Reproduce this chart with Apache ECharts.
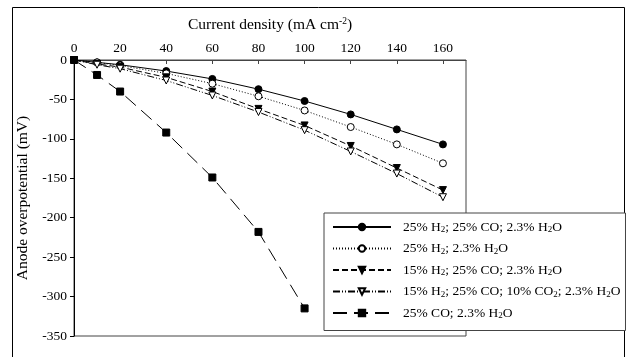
<!DOCTYPE html>
<html>
<head>
    <meta charset="UTF-8">
    <title>Anode overpotential</title>
    <script src="https://cdn.jsdelivr.net/npm/echarts@6/dist/echarts.min.js"></script>
    <style>
        html, body { margin: 0; padding: 0; background: #fff; }
        #main { width: 631px; height: 357px; }
    </style>
</head>
<body>
<div id="main"></div>
<script>
    // 电流密度 (x 轴)
    var currentDensity = [0, 10, 20, 40, 60, 80, 100, 120, 140, 160];
    var squareDensity = [0, 10, 20, 40, 60, 80, 100];

    // 各组气体的阳极过电位 (mV)
    var h2CoH2o = [0, -3, -6, -14, -24, -37, -52, -69, -88, -107];
    var h2H2o = [0, -3, -7, -17, -30, -46, -64, -85, -107, -131];
    var h2LowCoH2o = [0, -5, -9, -22, -40, -62, -83, -109, -137, -165];
    var h2LowCoCo2H2o = [0, -6, -11, -26, -45, -66, -89, -116, -144, -174];
    var coH2o = [0, -19, -40, -92, -149, -218, -315];

    var seriesNames = [
        '25% H2; 25% CO; 2.3% H2O',
        '25% H2; 2.3% H2O',
        '15% H2; 25% CO; 2.3% H2O',
        '15% H2; 25% CO; 10% CO2; 2.3% H2O',
        '25% CO; 2.3% H2O'
    ];

    var xTicks = { min: 0, max: 170, interval: 20 };
    var yTicks = { min: -350, max: 0, interval: 50 };

    function pairs(xs, ys) {
        return xs.map(function (x, i) { return [x, ys[i]]; });
    }

    var font = 'Liberation Serif';

    function makeSeries(name, xs, ys, symbol, fill, dash, rotate) {
        return {
            name: name,
            type: 'line',
            data: pairs(xs, ys),
            symbol: symbol,
            symbolSize: 7,
            symbolRotate: rotate || 0,
            showAllSymbol: true,
            lineStyle: { color: '#000', width: 1, type: dash },
            itemStyle: { color: fill, borderColor: '#000', borderWidth: 1 },
            animation: false
        };
    }

    var myChart = echarts.init(document.getElementById('main'));

    var option = {
        backgroundColor: '#fff',
        textStyle: { fontFamily: font },
        graphic: [{
            // 外框
            type: 'rect',
            shape: { x: 12.5, y: 7.5, width: 612, height: 400 },
            style: { fill: 'none', stroke: '#000', lineWidth: 1 },
            z: -1
        }],
        grid: {
            left: 74, top: 60, right: 165, bottom: 21,
            show: true, borderColor: '#444', borderWidth: 1
        },
        legend: {
            orient: 'vertical',
            left: 324, top: 213,
            padding: [7, 5, 10, 8],
            itemWidth: 58, itemHeight: 8, itemGap: 7,
            backgroundColor: '#fff',
            borderColor: '#444', borderWidth: 1,
            borderRadius: 0,
            data: seriesNames,
            formatter: function (name) {
                return name.replace(/([HO])2/g, '$1{s|2}');
            },
            textStyle: {
                fontFamily: font, fontSize: 13.5, color: '#000',
                padding: [0, 0, 0, 7],
                rich: {
                    s: { fontFamily: font, fontSize: 9, color: '#000', verticalAlign: 'bottom', padding: [6, 0, 0, 0] }
                }
            }
        },
        xAxis: {
            type: 'value',
            position: 'top',
            min: xTicks.min, max: xTicks.max, interval: xTicks.interval,
            name: 'Current density (mA cm{p|-2})',
            nameLocation: 'middle',
            nameGap: 27,
            nameTextStyle: {
                fontFamily: font, fontSize: 15.5, color: '#000',
                rich: { p: { fontFamily: font, fontSize: 9.5, color: '#000', verticalAlign: 'top', padding: [0, 0, 7, 0] } }
            },
            axisLine: { lineStyle: { color: '#444', width: 1 } },
            axisTick: { inside: true, length: 4, lineStyle: { color: '#444' } },
            axisLabel: { fontFamily: font, fontSize: 13.5, color: '#000', margin: 5, showMaxLabel: false },
            splitLine: { show: false }
        },
        yAxis: {
            type: 'value',
            min: yTicks.min, max: yTicks.max, interval: yTicks.interval,
            name: 'Anode overpotential (mV)',
            nameLocation: 'middle',
            nameGap: 37,
            nameTextStyle: { fontFamily: font, fontSize: 15.5, color: '#000' },
            axisLine: { onZero: false, lineStyle: { color: '#000', width: 1 } },
            axisTick: { length: 4, lineStyle: { color: '#000' } },
            axisLabel: { fontFamily: font, fontSize: 13.5, color: '#000', margin: 7 },
            splitLine: { show: false }
        },
        series: [
            makeSeries(seriesNames[0], currentDensity, h2CoH2o, 'circle', '#000', 'solid'),
            makeSeries(seriesNames[1], currentDensity, h2H2o, 'circle', '#fff', [1, 2]),
            makeSeries(seriesNames[2], currentDensity, h2LowCoH2o, 'triangle', '#000', [6, 3], 180),
            makeSeries(seriesNames[3], currentDensity, h2LowCoCo2H2o, 'triangle', '#fff', [7, 2, 1, 2, 1, 2], 180),
            makeSeries(seriesNames[4], squareDensity, coH2o, 'rect', '#000', [14, 7])
        ]
    };

    myChart.setOption(option);
</script>
</body>
</html>
